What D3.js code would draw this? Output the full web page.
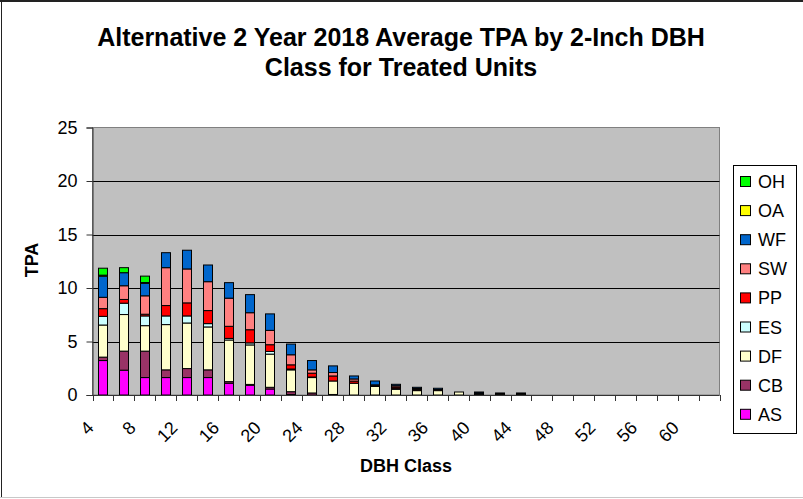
<!DOCTYPE html>
<html lang="en">
<head>
<meta charset="utf-8">
<title>Alternative 2 Year 2018 Average TPA</title>
<script src="https://d3js.org/d3.v7.min.js"></script>
<style>
  body { margin: 0; background: #fff; }
  svg text { font-family: "Liberation Sans", Arial, sans-serif; fill: #000; }
</style>
</head>
<body>
<div id="chart"></div>
<script>
    // DBH classes (inches)
    const dbhClasses = d3.range(4, 64, 2);

    // species, bottom of stack first
    const species = ["AS", "CB", "DF", "ES", "PP", "SW", "WF", "OA", "OH"];
    const speciesColors = ["#FF00FF", "#993366", "#FFFFCC", "#CCFFFF", "#FF0000", "#FF8080", "#0066CC", "#FFFF00", "#00FF00"];

    // TPA by DBH class, 4 .. 44 (zero after)
    const AS = [3.22, 2.32, 1.63, 1.63, 1.63, 1.63, 1.10, 0.91, 0.56, 0.05, 0, 0, 0, 0, 0, 0, 0, 0, 0, 0, 0];
    const CB = [0.32, 1.78, 2.47, 0.72, 0.84, 0.72, 0.15, 0.08, 0.16, 0.26, 0.19, 0.05, 0, 0, 0, 0, 0, 0, 0, 0, 0];
    const DF = [3.00, 3.42, 2.38, 4.23, 4.26, 4.01, 3.89, 3.69, 3.10, 2.04, 1.44, 1.26, 1.10, 0.80, 0.53, 0.41, 0.41, 0.28, 0.10, 0.10, 0.10];
    const ES = [0.81, 1.06, 0.91, 0.81, 0.66, 0.31, 0.15, 0.19, 0.25, 0.08, 0.05, 0, 0, 0, 0.10, 0, 0, 0, 0, 0, 0];
    const PP = [0.72, 0.35, 0.16, 0.97, 1.22, 1.22, 1.13, 1.23, 0.63, 0.39, 0.36, 0.47, 0.20, 0.05, 0.12, 0.10, 0, 0, 0, 0, 0];
    const SW = [1.06, 1.28, 1.72, 3.54, 3.17, 2.70, 2.63, 1.59, 1.34, 0.94, 0.31, 0.32, 0.20, 0.10, 0.12, 0.10, 0.10, 0, 0.08, 0, 0];
    const WF = [1.97, 1.22, 1.16, 1.40, 1.75, 1.56, 1.45, 1.69, 1.54, 1.00, 0.87, 0.62, 0.28, 0.36, 0.13, 0.11, 0.12, 0, 0.10, 0.09, 0.09];
    const OA = [0.10, 0, 0.08, 0, 0, 0, 0, 0, 0, 0, 0, 0, 0, 0, 0, 0, 0, 0, 0, 0, 0];
    const OH = [0.65, 0.47, 0.60, 0, 0, 0, 0, 0, 0, 0, 0, 0, 0, 0, 0, 0, 0, 0, 0, 0, 0];

    const yTicks = [0, 5, 10, 15, 20, 25];
    const xTickLabels = dbhClasses.filter((d, i) => i % 2 === 0);   // 4, 8, ... 60

    const seriesValues = {AS, CB, DF, ES, PP, SW, WF, OA, OH};
    const table = dbhClasses.map((d, i) => {
        const row = {dbh: d};
        species.forEach(s => row[s] = seriesValues[s][i] || 0);
        return row;
    });

    const width = 803, height = 499;
    const plot = {left: 92.5, right: 719.5, top: 127.5, bottom: 395};

    const svg = d3.select("#chart").append("svg")
        .attr("width", width)
        .attr("height", height);

    // chart frame
    svg.append("line").attr("x1", 0).attr("x2", width).attr("y1", 1).attr("y2", 1)
        .attr("stroke", "#222").attr("stroke-width", 2);
    svg.append("line").attr("x1", 1.5).attr("x2", 1.5).attr("y1", 0).attr("y2", 498)
        .attr("stroke", "#222");
    svg.append("line").attr("x1", 0).attr("x2", width).attr("y1", 497.5).attr("y2", 497.5)
        .attr("stroke", "#c8c8c8");

    const x = d3.scaleBand()
        .domain(dbhClasses)
        .range([plot.left, plot.right])
        .paddingInner(0.55)
        .paddingOuter(0.275);

    const y = d3.scaleLinear()
        .domain([0, 25])
        .range([plot.bottom, plot.top]);

    const color = d3.scaleOrdinal().domain(species).range(speciesColors);

    // plot area
    svg.append("rect")
        .attr("x", plot.left).attr("y", plot.top)
        .attr("width", plot.right - plot.left).attr("height", plot.bottom - plot.top)
        .attr("fill", "#C0C0C0").attr("stroke", "#808080");

    // gridlines
    svg.append("g").selectAll("line")
        .data(yTicks.filter(t => t > 0 && t < 25))
        .join("line")
        .attr("x1", plot.left).attr("x2", plot.right)
        .attr("y1", d => Math.round(y(d)) + 0.5).attr("y2", d => Math.round(y(d)) + 0.5)
        .attr("stroke", "#000");

    // stacked bars
    const stack = d3.stack().keys(species);
    const layers = stack(table);

    svg.append("g").selectAll("g")
        .data(layers)
        .join("g")
        .attr("fill", d => color(d.key))
        .selectAll("rect")
        .data(d => d.filter(v => v[1] - v[0] > 0))
        .join("rect")
        .attr("x", d => Math.round(x(d.data.dbh)) + 0.5)
        .attr("y", d => y(d[1]))
        .attr("width", Math.round(x.bandwidth()))
        .attr("height", d => y(d[0]) - y(d[1]))
        .attr("stroke", "#000")
        .attr("stroke-width", 1);

    // y axis
    const yAxis = svg.append("g")
        .attr("transform", `translate(${plot.left},0)`)
        .call(d3.axisLeft(y).tickValues(yTicks).tickSize(6).tickPadding(9));
    yAxis.select(".domain").attr("stroke", "#333");
    yAxis.selectAll(".tick line").attr("stroke", "#333");
    yAxis.selectAll(".tick text")
        .style("font-family", '"Liberation Sans", Arial, sans-serif')
        .style("font-size", "18px");

    // x axis
    const step = x.step();
    const gx = svg.append("g");
    gx.append("line")
        .attr("x1", plot.left).attr("x2", plot.right)
        .attr("y1", plot.bottom + 0.5).attr("y2", plot.bottom + 0.5)
        .attr("stroke", "#333");
    gx.selectAll("line.tick")
        .data(dbhClasses.concat([null]))
        .join("line")
        .attr("class", "tick")
        .attr("x1", (d, i) => Math.round(plot.left + i * step) + 0.5)
        .attr("x2", (d, i) => Math.round(plot.left + i * step) + 0.5)
        .attr("y1", plot.bottom)
        .attr("y2", plot.bottom + 6)
        .attr("stroke", "#333");
    gx.selectAll("text")
        .data(xTickLabels)
        .join("text")
        .attr("transform", d => `translate(${x(d) + x.bandwidth() / 2 - 8},429) rotate(-45)`)
        .attr("text-anchor", "end")
        .style("font-size", "18px")
        .text(d => d);

    // titles
    const title = svg.append("text")
        .attr("text-anchor", "middle")
        .style("font-size", "25px")
        .style("font-weight", "bold");
    title.append("tspan").attr("x", 401).attr("y", 46).text("Alternative 2 Year 2018 Average TPA by 2-Inch DBH");
    title.append("tspan").attr("x", 401).attr("y", 76).text("Class for Treated Units");

    svg.append("text")
        .attr("transform", "translate(38,260) rotate(-90)")
        .attr("text-anchor", "middle")
        .style("font-size", "18px")
        .style("font-weight", "bold")
        .text("TPA");

    svg.append("text")
        .attr("x", 406).attr("y", 472)
        .attr("text-anchor", "middle")
        .style("font-size", "18px")
        .style("font-weight", "bold")
        .text("DBH Class");

    // legend, top entry is last series
    const legend = svg.append("g");
    legend.append("rect")
        .attr("x", 733.5).attr("y", 165.5)
        .attr("width", 63).attr("height", 268)
        .attr("fill", "#fff").attr("stroke", "#000");
    const items = legend.selectAll("g.item")
        .data(species.slice().reverse())
        .join("g")
        .attr("class", "item")
        .attr("transform", (d, i) => `translate(740,${181 + i * 29.1})`);
    items.append("rect")
        .attr("x", 0.5).attr("y", -4.5)
        .attr("width", 10).attr("height", 10)
        .attr("fill", d => color(d))
        .attr("stroke", "#000");
    items.append("text")
        .attr("x", 18).attr("y", 7)
        .style("font-size", "18px")
        .text(d => d);
</script>
</body>
</html>
